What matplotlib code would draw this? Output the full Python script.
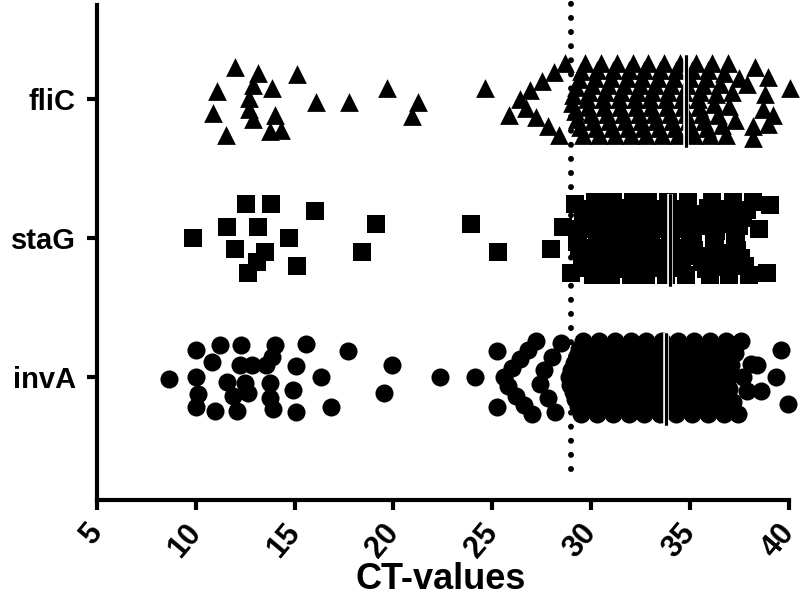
import numpy as np
import matplotlib.pyplot as plt
import matplotlib.patheffects as pe

plt.rcParams["font.family"] = ["Liberation Sans Narrow", "Liberation Sans", "DejaVu Sans"]
plt.rcParams["font.weight"] = "bold"

genes = ["invA", "staG", "fliC"]
markers = ["o", "s", "^"]
cutoff = 29.0
medians = [33.8, 34.0, 34.8]  # invA, staG, fliC
x_ticks = [5, 10, 15, 20, 25, 30, 35, 40]

# points standing apart: CT value and vertical offset
flic_ct_apart = [11.98, 13.16, 15.15, 11.1, 12.9, 13.88, 12.7, 16.1, 17.76, 19.68,
                 21.25, 20.96, 10.9, 12.7, 12.9, 14.0, 13.75, 14.34, 11.52, 24.63,
                 25.86, 40.05, 38.3, 38.96, 37.9, 38.8, 38.7, 39.2, 38.2, 38.96, 38.2]
flic_off_apart = [0.23, 0.19, 0.18, 0.06, 0.10, 0.08, 0.01, -0.02, -0.02, 0.08,
                  -0.02, -0.12, -0.10, -0.07, -0.14, -0.11, -0.23, -0.22, -0.26, 0.08,
                  -0.11, 0.08, 0.23, 0.16, 0.11, 0.04, -0.07, -0.11, -0.19, -0.18, -0.28]
# points in the crowded part (their offsets come from the scatter layout below)
flic_ct_dense = [26.4, 26.7, 26.9, 27.2, 27.5, 27.8, 28.1, 28.4, 28.7,
                 29.05, 29.1, 29.2, 29.25, 29.3, 29.4, 29.45, 29.5, 29.6, 29.7,
                 29.8, 29.85, 29.9, 30.0, 30.05, 30.1, 30.2, 30.25, 30.3, 30.4, 30.5,
                 30.6, 30.65, 30.7, 30.8, 30.85, 30.9, 31.0, 31.05, 31.1, 31.2, 31.3,
                 31.4, 31.45, 31.5, 31.6, 31.65, 31.7, 31.8, 31.85, 31.9, 32.0, 32.1,
                 32.2, 32.25, 32.3, 32.4, 32.45, 32.5, 32.6, 32.65, 32.7, 32.8, 32.9,
                 33.0, 33.05, 33.1, 33.2, 33.25, 33.3, 33.4, 33.45, 33.5, 33.6, 33.7,
                 33.8, 33.85, 33.9, 34.0, 34.05, 34.1, 34.2, 34.25, 34.3, 34.4, 34.5,
                 34.6, 34.65, 34.7, 34.8, 34.85, 34.9, 35.0, 35.05, 35.1, 35.2, 35.3,
                 35.4, 35.45, 35.5, 35.6, 35.65, 35.7, 35.8, 35.85, 35.9, 36.0, 36.1,
                 36.2, 36.3, 36.4, 36.5, 36.6, 36.7, 36.8, 36.9,
                 37.0, 37.15, 37.3, 37.5]
flic_edges = [26.3, 29.0, 29.8, 30.6, 31.4, 32.2, 33.0, 33.8, 34.6, 35.4, 36.2, 37.0, 37.8]

stag_ct_apart = [12.54, 13.8, 16.03, 11.59, 13.16, 9.87, 14.71, 19.1, 11.98, 13.5,
                 13.08, 15.13, 12.65, 18.39, 23.95, 25.3, 27.96, 28.6, 28.98, 29.2,
                 39.04, 38.5, 38.9]
stag_off_apart = [0.25, 0.25, 0.20, 0.08, 0.08, 0.0, 0.0, 0.10, -0.08, -0.10,
                  -0.17, -0.20, -0.25, -0.10, 0.10, -0.10, -0.08, 0.08, -0.25, 0.25,
                  0.24, 0.07, -0.25]
stag_ct_dense = [29.3, 29.35, 29.4, 29.5, 29.55, 29.6, 29.7, 29.8, 29.9, 30.0, 30.1, 30.2,
                 30.3, 30.35, 30.4, 30.5, 30.55, 30.6, 30.7, 30.8, 30.85, 30.9, 31.0, 31.1,
                 31.2, 31.25, 31.3, 31.4, 31.45, 31.5, 31.6, 31.7, 31.75, 31.8, 31.9, 32.0, 32.1,
                 32.2, 32.25, 32.3, 32.35, 32.4, 32.5, 32.55, 32.6, 32.7, 32.8, 32.9,
                 33.0, 33.05, 33.1, 33.2, 33.25, 33.3, 33.4, 33.5, 33.6, 33.7, 33.8, 33.9,
                 34.0, 34.05, 34.1, 34.2, 34.3, 34.35, 34.4, 34.5, 34.6, 34.7, 34.8, 34.9,
                 35.0, 35.1, 35.15, 35.2, 35.3, 35.4, 35.5, 35.6, 35.7, 35.8, 35.9, 36.0, 36.1,
                 36.2, 36.25, 36.3, 36.4, 36.5, 36.6, 36.7, 36.8, 36.9, 37.0, 37.2,
                 37.3, 37.35, 37.4, 37.5, 37.6, 37.7, 37.8, 37.9, 38.0, 38.2]
stag_edges = [29.3, 30.3, 31.2, 32.2, 33.0, 34.0, 35.0, 36.2, 37.3, 38.4]

inva_ct_apart = [8.66, 10.0, 11.24, 12.3, 14.0, 15.57, 17.71, 19.94, 10.85, 10.04,
                 11.56, 12.23, 12.83, 12.49, 13.58, 13.75, 13.84, 15.07, 16.36, 14.93,
                 10.12, 11.89, 12.65, 13.75, 10.0, 10.96, 12.07, 13.92, 15.1, 16.87,
                 19.53, 22.35, 24.12, 25.22, 25.22, 39.6, 39.37, 39.96, 38.4, 38.6]
inva_off_apart = [-0.01, 0.20, 0.23, 0.23, 0.23, 0.24, 0.19, 0.09, 0.11, 0.0,
                  -0.03, 0.09, 0.09, -0.04, 0.09, -0.04, 0.15, 0.08, 0.0, -0.09,
                  -0.12, -0.13, -0.11, -0.15, -0.21, -0.24, -0.24, -0.23, -0.25, -0.21,
                  -0.11, 0.0, 0.0, 0.19, -0.21, 0.20, 0.0, -0.19, 0.09, -0.10]
inva_ct_dense = [25.6, 25.8, 26.0, 26.2, 26.4, 26.6, 26.8, 27.0, 27.2,
                 27.4, 27.6, 27.8, 28.0, 28.2, 28.5,
                 28.9, 28.95, 29.0, 29.1, 29.15, 29.2, 29.3, 29.35, 29.4, 29.5, 29.6,
                 29.7, 29.75, 29.8, 29.9, 29.95, 30.0, 30.1, 30.15, 30.2, 30.3, 30.4,
                 30.5, 30.55, 30.6, 30.7, 30.75, 30.8, 30.9, 30.95, 31.0, 31.1, 31.2,
                 31.3, 31.35, 31.4, 31.5, 31.55, 31.6, 31.7, 31.75, 31.8, 31.9, 32.0,
                 32.1, 32.15, 32.2, 32.3, 32.35, 32.4, 32.5, 32.55, 32.6, 32.7, 32.8,
                 32.9, 32.95, 33.0, 33.1, 33.15, 33.2, 33.3, 33.35, 33.4, 33.5, 33.6,
                 33.7, 33.75, 33.8, 33.9, 33.95, 34.0, 34.1, 34.15, 34.2, 34.3, 34.4,
                 34.5, 34.55, 34.6, 34.7, 34.75, 34.8, 34.9, 34.95, 35.0, 35.1, 35.2,
                 35.3, 35.35, 35.4, 35.5, 35.55, 35.6, 35.7, 35.75, 35.8, 35.9, 36.0,
                 36.1, 36.15, 36.2, 36.3, 36.35, 36.4, 36.5, 36.55, 36.6, 36.7, 36.8,
                 36.9, 37.0, 37.1, 37.2, 37.3, 37.45, 37.6,
                 37.7, 37.9, 38.1]
inva_edges = [25.6, 27.4, 28.9, 29.7, 30.5, 31.3, 32.1, 32.9, 33.7, 34.5, 35.3,
              36.1, 36.9, 37.7]


def spread(values, edges, max_off=0.26, step=0.1):
    """Prism-like scatter: within each bin, sorted points fan out up and down."""
    values = np.sort(np.asarray(values, dtype=float))
    offsets = np.zeros_like(values)
    idx = np.digitize(values, edges)
    for b in np.unique(idx):
        sel = np.where(idx == b)[0]
        n = len(sel)
        half = (n - 1) / 2
        s = step if half == 0 else min(step, max_off / half)
        for k, i in enumerate(sel):
            if n % 2:
                m = (k + 1) // 2
                sign = -1 if k % 2 else 1
            else:
                m = k // 2 + 0.5
                sign = -1 if k % 2 == 0 else 1
            offsets[i] = sign * m * s
    return values, offsets


groups = [
    (inva_ct_apart, inva_off_apart, inva_ct_dense, inva_edges),
    (stag_ct_apart, stag_off_apart, stag_ct_dense, stag_edges),
    (flic_ct_apart, flic_off_apart, flic_ct_dense, flic_edges),
]
marker_sizes = [13, 12.5, 13.5]

fig = plt.figure(figsize=(8, 5.95), dpi=100)
ax = fig.add_axes([0.121, 0.16, 0.865, 0.832])

for pos, (ct_a, off_a, ct_d, edges) in enumerate(groups, start=1):
    dense_x, dense_off = spread(ct_d, edges)
    xs = np.concatenate([np.asarray(ct_a), dense_x])
    ys = pos + np.concatenate([np.asarray(off_a), dense_off])
    ax.scatter(xs, ys, marker=markers[pos - 1], s=marker_sizes[pos - 1] ** 2,
               c="black", linewidths=0, clip_on=False, zorder=3)
    # median line
    ax.plot([medians[pos - 1]] * 2, [pos - 0.34, pos + 0.32], color="black",
            lw=2.2, zorder=4, solid_capstyle="butt",
            path_effects=[pe.withStroke(linewidth=4.0, foreground="white"), pe.Normal()])

# cut-off line
ax.plot([cutoff, cutoff], [0.34, 3.72], color="black", lw=4.3,
        linestyle=(0, (0.01, 2.35)), dash_capstyle="round", clip_on=False, zorder=5)

ax.set_xlim(5, 40)
ax.set_ylim(0.12, 3.68)
ax.set_xticks(x_ticks)
ax.set_xticklabels([str(t) for t in x_ticks], rotation=50, ha="right",
                   va="center", rotation_mode="anchor", fontsize=22, fontweight="bold")
ax.set_yticks([1, 2, 3])
ax.set_yticklabels(genes, fontsize=21, fontweight="bold")
ax.set_xlabel("CT-values", fontsize=26, fontweight="bold")
ax.xaxis.set_label_coords(0.497, -0.16)
ax.xaxis.label.set_va("center")

for side in ["top", "right"]:
    ax.spines[side].set_visible(False)
for side in ["left", "bottom"]:
    ax.spines[side].set_linewidth(3)
ax.tick_params(direction="out", length=7, width=3)
ax.tick_params(axis="x", pad=13)
ax.tick_params(axis="y", pad=8)

fig.savefig("out.png", dpi=100)
